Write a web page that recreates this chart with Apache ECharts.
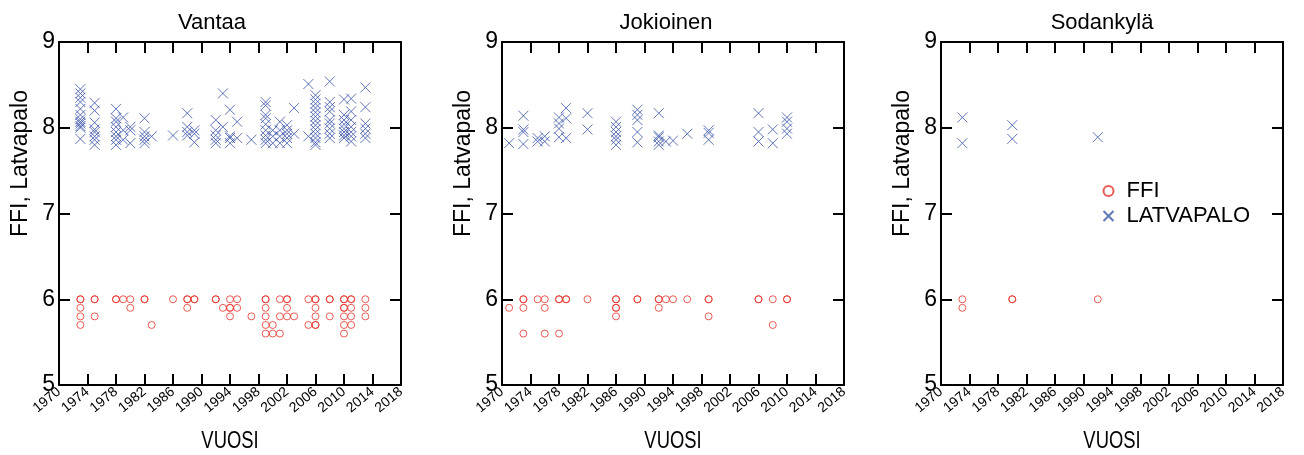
<!DOCTYPE html>
<html>
<head>
<meta charset="utf-8">
<script src="https://cdn.jsdelivr.net/npm/echarts@6/dist/echarts.min.js"></script>
<style>
  html, body { margin: 0; padding: 0; background: #fff; }
  #chart { width: 1304px; height: 455px; }
</style>
</head>
<body>
<div id="chart"></div>
<script>
// asemat ja vuosiakseli
const stations = ['Vantaa', 'Jokioinen', 'Sodankylä'];
const yearTicks = [1970, 1974, 1978, 1982, 1986, 1990, 1994, 1998, 2002, 2006, 2010, 2014, 2018];
const valueTicks = [5, 6, 7, 8, 9];

// [vuosi, [arvot]]
const vantaaFfi = [
  [1973, [6.0, 6.0, 5.9, 5.8, 5.7]], [1975, [6.0, 6.0, 5.8]], [1978, [6.0, 6.0]], [1979, [6.0]],
  [1980, [6.0, 5.9]], [1982, [6.0, 6.0]], [1983, [5.7]], [1986, [6.0]], [1988, [6.0, 6.0, 5.9]],
  [1989, [6.0, 6.0]], [1992, [6.0, 6.0]], [1993, [5.9]], [1994, [6.0, 5.9, 5.9, 5.8]], [1995, [6.0, 5.9]],
  [1997, [5.8]], [1999, [6.0, 6.0, 5.9, 5.8, 5.7, 5.6]], [2000, [5.7, 5.6]], [2001, [6.0, 5.8, 5.6]],
  [2002, [6.0, 6.0, 5.9, 5.8]], [2003, [5.8]], [2005, [6.0, 5.7]], [2006, [6.0, 6.0, 5.9, 5.8, 5.7, 5.7]],
  [2008, [6.0, 6.0, 5.8]], [2010, [6.0, 6.0, 5.9, 5.9, 5.8, 5.7, 5.6]], [2011, [6.0, 6.0, 5.9, 5.8, 5.7]],
  [2013, [6.0, 5.9, 5.8]]
];
const vantaaLatvapalo = [
  [1973, [8.45, 8.4, 8.35, 8.3, 8.22, 8.15, 8.1, 8.07, 8.05, 8.02, 8.0, 7.87]],
  [1975, [8.29, 8.2, 8.06, 7.98, 7.95, 7.9, 7.86, 7.8]],
  [1978, [8.22, 8.11, 8.07, 8.01, 7.95, 7.9, 7.86, 7.8]],
  [1979, [8.12, 7.97, 7.86]], [1980, [8.01, 7.97, 7.82]],
  [1982, [8.11, 7.95, 7.9, 7.86, 7.82]], [1983, [7.9]], [1986, [7.91]],
  [1988, [8.17, 8.01, 7.95, 7.91]], [1989, [7.97, 7.93, 7.83]],
  [1992, [8.09, 7.97, 7.91, 7.86, 7.82]], [1993, [8.4, 8.01]],
  [1994, [8.21, 7.9, 7.88, 7.82]], [1995, [8.07, 7.88]], [1997, [7.86]],
  [1999, [8.3, 8.26, 8.15, 8.11, 8.04, 7.97, 7.91, 7.86, 7.82]],
  [2000, [7.97, 7.9, 7.82]], [2001, [8.07, 7.97, 7.9, 7.82]],
  [2002, [8.03, 7.97, 7.93, 7.88, 7.82]], [2003, [8.23, 7.93]], [2005, [8.51, 7.9]],
  [2006, [8.38, 8.33, 8.28, 8.23, 8.18, 8.13, 8.08, 8.03, 7.98, 7.93, 7.88, 7.83, 7.8]],
  [2008, [8.54, 8.3, 8.24, 8.19, 8.09, 8.05, 7.99, 7.93, 7.88]],
  [2010, [8.33, 8.15, 8.09, 8.04, 7.99, 7.95, 7.91, 7.88]],
  [2011, [8.34, 8.19, 8.09, 8.01, 7.95, 7.9, 7.84]],
  [2013, [8.47, 8.24, 8.05, 7.99, 7.93, 7.88]]
];
const jokioinenFfi = [
  [1971, [5.9]], [1973, [6.0, 6.0, 5.9, 5.6]], [1975, [6.0]], [1976, [6.0, 5.9, 5.6]],
  [1978, [6.0, 6.0, 5.6]], [1979, [6.0, 6.0]], [1982, [6.0]], [1986, [6.0, 6.0, 5.9, 5.9, 5.8]],
  [1989, [6.0, 6.0]], [1992, [6.0, 6.0, 5.9]], [1993, [6.0]], [1994, [6.0]], [1996, [6.0]],
  [1999, [6.0, 6.0, 5.8]], [2006, [6.0, 6.0]], [2008, [6.0, 5.7]], [2010, [6.0, 6.0]]
];
const jokioinenLatvapalo = [
  [1971, [7.82]], [1973, [8.14, 7.98, 7.95, 7.81]], [1975, [7.88, 7.84]], [1976, [7.9, 7.84]],
  [1978, [8.12, 8.05, 7.99, 7.89]], [1979, [8.23, 8.11, 7.88]], [1982, [8.17, 7.98]],
  [1986, [8.07, 8.01, 7.95, 7.9, 7.86, 7.8]], [1989, [8.21, 8.15, 8.09, 7.95, 7.83]],
  [1992, [8.17, 7.91, 7.89, 7.84, 7.8]], [1993, [7.84]], [1994, [7.85]], [1996, [7.93]],
  [1999, [7.97, 7.94, 7.86]], [2006, [8.17, 7.95, 7.84]], [2008, [7.98, 7.82]],
  [2010, [8.12, 8.07, 7.99, 7.93]]
];
const sodankylaFfi = [[1973, [6.0, 5.9]], [1980, [6.0, 6.0]], [1992, [6.0]]];
const sodankylaLatvapalo = [[1973, [8.12, 7.82]], [1980, [8.03, 7.87]], [1992, [7.89]]];

const ffiData = [vantaaFfi, jokioinenFfi, sodankylaFfi];
const latvaData = [vantaaLatvapalo, jokioinenLatvapalo, sodankylaLatvapalo];

const red = '#e5332a';
const blue = '#3a54a8';
const font = '"Liberation Sans", Arial, sans-serif';
const gridLefts = [59, 502, 941];
const titleCenters = [207, 661, 1097];
const gridW = 342, gridTop = 42, gridH = 343;

const flatten = (rows) => rows.flatMap(([yr, vals]) => vals.map(v => [yr, v]));
const crossPath = 'path://M0,0L10,10M10,0L0,10';

const grids = [], xAxes = [], yAxes = [], series = [], titles = [], graphics = [];
stations.forEach((name, i) => {
  grids.push({ left: gridLefts[i], top: gridTop, width: gridW, height: gridH, outerBoundsMode: 'none' });
  titles.push({
    text: name, left: titleCenters[i], top: 7, textAlign: 'center',
    textStyle: { fontFamily: font, fontSize: 22, fontWeight: 'normal', color: '#000' }
  });
  // x-akselin nimi kapeana tekstinä
  graphics.push({
    type: 'text', x: gridLefts[i] + gridW / 2, y: 442, scaleX: 0.8,
    style: { text: 'VUOSI', x: 0, y: 0, align: 'center', verticalAlign: 'middle',
      font: '23px "Liberation Sans", Arial, sans-serif', fill: '#000' }
  });
  const lineStyle = { color: '#000', width: 2 };
  xAxes.push({
    gridIndex: i, type: 'value', position: 'bottom',
    min: yearTicks[0], max: yearTicks[yearTicks.length - 1], interval: 4,
    axisLine: { show: true, lineStyle },
    axisTick: { show: true, inside: true, length: 11, lineStyle },
    axisLabel: { rotate: 40, fontFamily: font, fontSize: 14, color: '#000', margin: 5,
      formatter: (v) => String(v) },
    splitLine: { show: false }
  });
  xAxes.push({
    gridIndex: i, type: 'value', position: 'top',
    min: yearTicks[0], max: yearTicks[yearTicks.length - 1], interval: 4,
    axisLine: { show: true, lineStyle },
    axisTick: { show: true, inside: true, length: 11, lineStyle },
    axisLabel: { show: false }, splitLine: { show: false }
  });
  yAxes.push({
    gridIndex: i, type: 'value', position: 'left',
    min: valueTicks[0], max: valueTicks[valueTicks.length - 1], interval: 1,
    name: 'FFI, Latvapalo', nameLocation: 'middle', nameGap: 27, nameMoveOverlap: false,
    nameTextStyle: { fontFamily: font, fontSize: 23, color: '#000', padding: [0, 0, 0, 100] },
    axisLine: { show: true, lineStyle },
    axisTick: { show: true, inside: true, length: 11, lineStyle },
    axisLabel: { fontFamily: font, fontSize: 23, color: '#000', margin: 4 },
    splitLine: { show: false }
  });
  yAxes.push({
    gridIndex: i, type: 'value', position: 'right',
    min: valueTicks[0], max: valueTicks[valueTicks.length - 1], interval: 1,
    axisLine: { show: true, lineStyle },
    axisTick: { show: true, inside: true, length: 11, lineStyle },
    axisLabel: { show: false }, splitLine: { show: false }
  });
  series.push({
    name: 'FFI', type: 'scatter', xAxisIndex: 2 * i, yAxisIndex: 2 * i,
    symbol: 'circle', symbolSize: 7,
    itemStyle: { color: 'rgba(0,0,0,0)', borderColor: red, borderWidth: 1 },
    data: flatten(ffiData[i]), animation: false
  });
  series.push({
    name: 'LATVAPALO', type: 'scatter', xAxisIndex: 2 * i, yAxisIndex: 2 * i,
    symbol: crossPath, symbolSize: 10,
    itemStyle: { color: 'none', borderColor: blue, borderWidth: 1 },
    data: flatten(latvaData[i]), animation: false
  });
});

const chart = echarts.init(document.getElementById('chart'));
chart.setOption({
  animation: false,
  backgroundColor: '#fff',
  title: titles,
  legend: {
    data: ['FFI', 'LATVAPALO'],
    orient: 'vertical', left: 1101, top: 180, padding: 0,
    itemWidth: 10, itemHeight: 10, itemGap: 3,
    textStyle: { fontFamily: font, fontSize: 22, color: '#000', padding: [0, 0, 0, 8] }
  },
  grid: grids,
  xAxis: xAxes,
  yAxis: yAxes,
  graphic: graphics,
  series: series
});
</script>
</body>
</html>
